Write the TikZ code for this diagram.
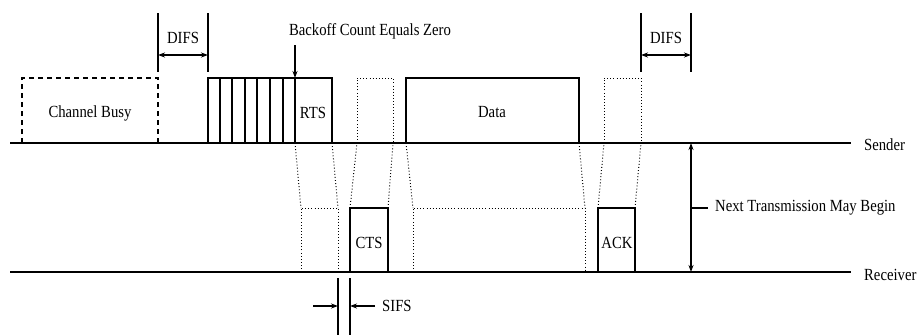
\documentclass[tikz,border=0pt]{standalone}
\usepackage{fontspec}
\setmainfont{Liberation Serif}
\usetikzlibrary{arrows.meta}
\begin{document}
\begin{tikzpicture}[x=1pt,y=-1pt,
 axis/.style={line width=1.8pt},
 frame/.style={line width=1.4pt},
 dotline/.style={line width=1pt, dash pattern=on 0.9pt off 2.2pt},
 dashline/.style={line width=1.3pt, dash pattern=on 5pt off 4pt},
 lbl/.style={font=\fontsize{17}{19}\selectfont, xscale=0.865, inner sep=0pt},
 dbl/.style={line width=1.4pt, {Stealth[length=7pt,width=5pt]}-{Stealth[length=7pt,width=5pt]}},
 sgl/.style={line width=1.4pt, -{Stealth[length=7pt,width=5pt]}}
]
\useasboundingbox (0,0) rectangle (917,335);
% axes
\coordinate (sL) at (10,143); \coordinate (sR) at (851,143);
\coordinate (rL) at (10,272); \coordinate (rR) at (851,272);
\draw[axis] (sL) -- (sR);
\draw[axis] (rL) -- (rR);
\node[lbl, anchor=west] (sender) at (864,145) {Sender};
\node[lbl, anchor=west] (receiver) at (864,275) {Receiver};
% channel busy
\draw[dashline] (22,143) -- (22,78) -- (158,78) -- (158,143);
\node[lbl] (busy) at (90,113) {Channel Busy};
% DIFS left
\coordinate (d1a) at (158,13); \coordinate (d1b) at (158,72);
\coordinate (d2a) at (208,13); \coordinate (d2b) at (208,72);
\draw[frame] (d1a) -- (d1b);
\draw[frame] (d2a) -- (d2b);
\coordinate (d1m) at (158,55); \coordinate (d2m) at (208,55);
\draw[dbl] (d1m) -- (d2m);
\node[lbl] (difs1) at (183,38) {DIFS};
% backoff + RTS
\draw[frame] (208,143) -- (208,78) -- (332,78) -- (332,143);
\foreach \x in {220,232,245,257,270,283} \draw[frame] (\x,78) -- (\x,143);
\coordinate (bzTop) at (295,45); \coordinate (bzBox) at (295,78); \coordinate (bzBase) at (295,143);
\draw[sgl] (bzTop) -- (bzBox);
\draw[line width=1.9pt] (bzBox) -- (bzBase);
\node[lbl] (backoff) at (370,31) {Backoff Count Equals Zero};
\node[lbl] (rts) at (313,113) {RTS};
% sender dotted box for CTS
\draw[dotline] (357,143) -- (357,78) -- (393,78) -- (393,143);
% data
\draw[frame] (406,143) -- (406,78) -- (579,78) -- (579,143);
\node[lbl] (data) at (492,112) {Data};
% sender dotted box for ACK
\draw[dotline] (604,143) -- (604,78) -- (641,78) -- (641,143);
% DIFS right
\coordinate (d3a) at (641,13); \coordinate (d3b) at (641,72);
\coordinate (d4a) at (691,13); \coordinate (d4b) at (691,72);
\draw[frame] (d3a) -- (d3b);
\draw[frame] (d4a) -- (d4b);
\coordinate (d3m) at (641,55); \coordinate (d4m) at (691,55);
\draw[dbl] (d3m) -- (d4m);
\node[lbl] (difs2) at (666,38) {DIFS};
% receiver dotted box for RTS
\draw[dotline] (301,272) -- (301,208) -- (338,208) -- (338,272);
\draw[dotline] (295,143) -- (301,208);
\draw[dotline] (332,143) -- (338,208);
% CTS
\draw[frame] (350,272) -- (350,208) -- (388,208) -- (388,272);
\node[lbl] (cts) at (369,243) {CTS};
\draw[dotline] (350,208) -- (357,143);
\draw[dotline] (388,208) -- (393,143);
% receiver dotted box for data
\draw[dotline] (413,272) -- (413,208) -- (585,208) -- (585,272);
\draw[dotline] (406,143) -- (413,208);
\draw[dotline] (579,143) -- (585,208);
% ACK
\draw[frame] (598,272) -- (598,208) -- (635,208) -- (635,272);
\node[lbl] (ack) at (617,243) {ACK};
\draw[dotline] (598,208) -- (604,143);
\draw[dotline] (635,208) -- (641,143);
% next transmission
\coordinate (ntS) at (691,143); \coordinate (ntR) at (691,272);
\coordinate (ntM) at (691,208); \coordinate (ntT) at (708,208);
\draw[dbl] (ntS) -- (ntR);
\draw[frame] (ntM) -- (ntT);
\node[lbl, anchor=west] (next) at (715,208) {Next Transmission May Begin};
% SIFS
\coordinate (s1a) at (338,278); \coordinate (s1b) at (338,335);
\coordinate (s2a) at (350,278); \coordinate (s2b) at (350,335);
\draw[frame] (s1a) -- (s1b);
\draw[frame] (s2a) -- (s2b);
\coordinate (sa1) at (313,306); \coordinate (sa2) at (338,306);
\coordinate (sb1) at (375,306); \coordinate (sb2) at (350,306);
\draw[sgl] (sa1) -- (sa2);
\draw[sgl] (sb1) -- (sb2);
\node[lbl, anchor=west] (sifs) at (382,306) {SIFS};
\end{tikzpicture}
\end{document}
